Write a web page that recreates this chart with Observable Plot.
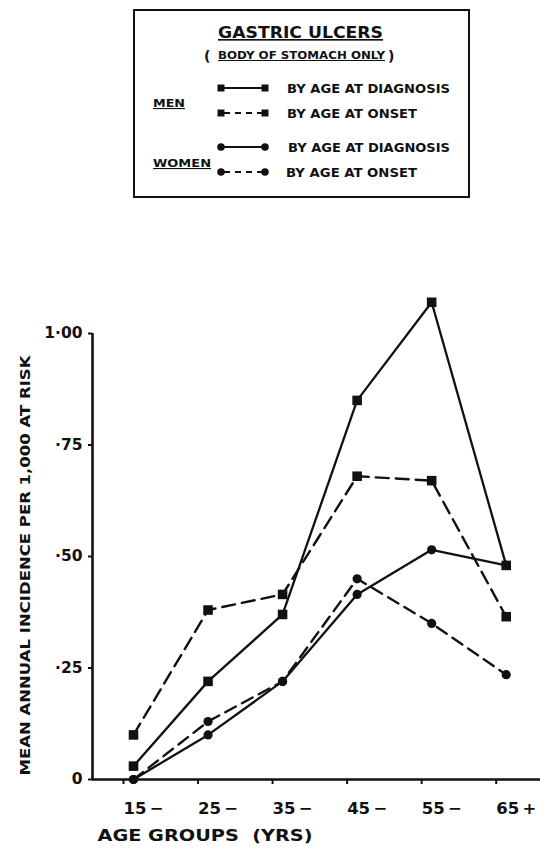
<!DOCTYPE html>
<html>
<head>
<meta charset="utf-8">
<script src="https://cdn.jsdelivr.net/npm/d3@7"></script>
<script src="https://cdn.jsdelivr.net/npm/@observablehq/plot@0.6"></script>
<style>
  html, body { margin: 0; padding: 0; background: #fff; }
  body { width: 540px; height: 849px; overflow: hidden; font-family: "DejaVu Sans", sans-serif; }
  svg { display: block; }
  .lg text { font-family: "DejaVu Sans", sans-serif; font-weight: bold; fill: #111; }
</style>
</head>
<body>
<div id="legend"></div>
<div id="chart"></div>
<script>
// ---- data ----
const ageGroups = [15, 25, 35, 45, 55, 65];
const ageLabels = ["15\u2009\u2212", "25\u2009\u2212", "35\u2009\u2212", "45\u2009\u2212", "55\u2009\u2212", "65\u2009+"];
const menDiagnosis   = [0.03, 0.22, 0.37, 0.85, 1.07, 0.48];
const menOnset       = [0.10, 0.38, 0.415, 0.68, 0.67, 0.365];
const womenDiagnosis = [0.00, 0.10, 0.22, 0.415, 0.515, 0.48];
const womenOnset     = [0.00, 0.13, 0.22, 0.45, 0.35, 0.235];
const yTicks = [0, 0.25, 0.5, 0.75, 1];
const yTickLabels = ["0", "\u00b725", "\u00b750", "\u00b775", "1\u00b700"];
const seriesNames = ["Men by age at diagnosis", "Men by age at onset", "Women by age at diagnosis", "Women by age at onset"];
const yLabel = "MEAN ANNUAL INCIDENCE PER 1,000 AT RISK";
const xLabel = "AGE GROUPS  (YRS)";

const table = [menDiagnosis, menOnset, womenDiagnosis, womenOnset].flatMap((vals, s) =>
  vals.map((v, i) => ({series: seriesNames[s], age: ageGroups[i], value: v})));
const of = (s) => table.filter(d => d.series === seriesNames[s]);

// ---- legend (key box) ----
const lg = d3.create("svg").attr("class", "lg").attr("width", 540).attr("height", 280);
lg.append("rect").attr("x", 134).attr("y", 10).attr("width", 335).attr("height", 187)
  .attr("fill", "none").attr("stroke", "#111").attr("stroke-width", 2);
lg.append("text").attr("x", 218).attr("y", 38).attr("font-size", 16.5)
  .attr("textLength", 165).attr("lengthAdjust", "spacingAndGlyphs")
  .style("text-decoration", "underline").text("GASTRIC ULCERS");
lg.append("text").attr("x", 204).attr("y", 61).attr("font-size", 14).text("(");
lg.append("text").attr("x", 218).attr("y", 59).attr("font-size", 10)
  .attr("textLength", 167).attr("lengthAdjust", "spacingAndGlyphs")
  .style("text-decoration", "underline").text("BODY OF STOMACH ONLY");
lg.append("text").attr("x", 388).attr("y", 61).attr("font-size", 14).text(")");
lg.append("text").attr("x", 153).attr("y", 107).attr("font-size", 11)
  .attr("textLength", 32).attr("lengthAdjust", "spacingAndGlyphs")
  .style("text-decoration", "underline").text("MEN");
lg.append("text").attr("x", 153).attr("y", 167).attr("font-size", 11)
  .attr("textLength", 58).attr("lengthAdjust", "spacingAndGlyphs")
  .style("text-decoration", "underline").text("WOMEN");
const keys = [
  {y: 88, dash: null, sym: "square", label: "BY AGE AT DIAGNOSIS", lx: 287, len: 163},
  {y: 113, dash: "6,5", sym: "square", label: "BY AGE AT ONSET", lx: 287, len: 130},
  {y: 147, dash: null, sym: "circle", label: "BY AGE AT DIAGNOSIS", lx: 288, len: 162},
  {y: 172, dash: "6,5", sym: "circle", label: "BY AGE AT ONSET", lx: 286, len: 131}
];
for (const k of keys) {
  const ln = lg.append("line").attr("x1", 221).attr("x2", 265).attr("y1", k.y).attr("y2", k.y)
    .attr("stroke", "#111").attr("stroke-width", 2.2);
  if (k.dash) ln.attr("stroke-dasharray", k.dash).attr("stroke-dashoffset", -3);
  for (const cx of [221, 265]) {
    if (k.sym === "square") lg.append("rect").attr("x", cx - 3.5).attr("y", k.y - 3.5).attr("width", 7).attr("height", 7).attr("fill", "#111");
    else lg.append("circle").attr("cx", cx).attr("cy", k.y).attr("r", 3.8).attr("fill", "#111");
  }
  lg.append("text").attr("x", k.lx).attr("y", k.y + 5).attr("font-size", 12.5)
    .attr("textLength", k.len).attr("lengthAdjust", "spacingAndGlyphs").text(k.label);
}
document.getElementById("legend").append(lg.node());

// ---- chart ----
const ink = "#111";
const chart = Plot.plot({
  width: 540,
  height: 569,
  marginLeft: 92,
  marginRight: 0,
  marginTop: 53,
  marginBottom: 70,
  style: {fontFamily: "DejaVu Sans, sans-serif", color: ink, background: "white"},
  x: {domain: [9.5, 69.6]},
  y: {domain: [0, 1]},
  marks: [
    Plot.axisY({ticks: yTicks, tickFormat: (d, i) => yTickLabels[i], tickSize: 4, tickPadding: 6,
      fontSize: 15.5, fontWeight: "bold", strokeWidth: 2, label: null}),
    Plot.axisX({ticks: ageGroups, tickFormat: (d, i) => ageLabels[i], tickSize: 5, tickPadding: 18,
      fontSize: 16.5, fontWeight: "bold", textAnchor: "start", dx: -10, strokeWidth: 2, label: null}),
    Plot.ruleY([0], {stroke: ink, strokeWidth: 2.6}),
    Plot.ruleX([9.5], {y1: 0, y2: 1, stroke: ink, strokeWidth: 2.6}),
    Plot.line(of(0), {x: "age", y: "value", stroke: ink, strokeWidth: 2.3}),
    Plot.line(of(1), {x: "age", y: "value", stroke: ink, strokeWidth: 2.4, strokeDasharray: "13,7"}),
    Plot.line(of(2), {x: "age", y: "value", stroke: ink, strokeWidth: 2.3}),
    Plot.line(of(3), {x: "age", y: "value", stroke: ink, strokeWidth: 2.4, strokeDasharray: "12,7"}),
    Plot.dot(of(2).concat(of(3)), {x: "age", y: "value", symbol: "circle", r: 4.6, fill: ink}),
    Plot.dot(of(0).concat(of(1)), {x: "age", y: "value", symbol: "square", r: 5.4, fill: ink}),
    Plot.text([yLabel], {frameAnchor: "left", rotate: -90, textAnchor: "middle", lineAnchor: "middle",
      dx: -67, dy: 9, fontSize: 13.5, fontWeight: "bold", fill: ink}),
    Plot.text([xLabel], {frameAnchor: "bottom-left", textAnchor: "start", lineAnchor: "bottom",
      dx: 5, dy: 61, fontSize: 16.5, fontWeight: "bold", fill: ink})
  ]
});
d3.select(chart).selectAll("text").filter(function() { return this.textContent === yLabel; })
  .attr("textLength", 420).attr("lengthAdjust", "spacingAndGlyphs");
d3.select(chart).selectAll("text").filter(function() { return this.textContent === xLabel; })
  .attr("textLength", 215).attr("lengthAdjust", "spacingAndGlyphs");
document.getElementById("chart").append(chart);
</script>
</body>
</html>
